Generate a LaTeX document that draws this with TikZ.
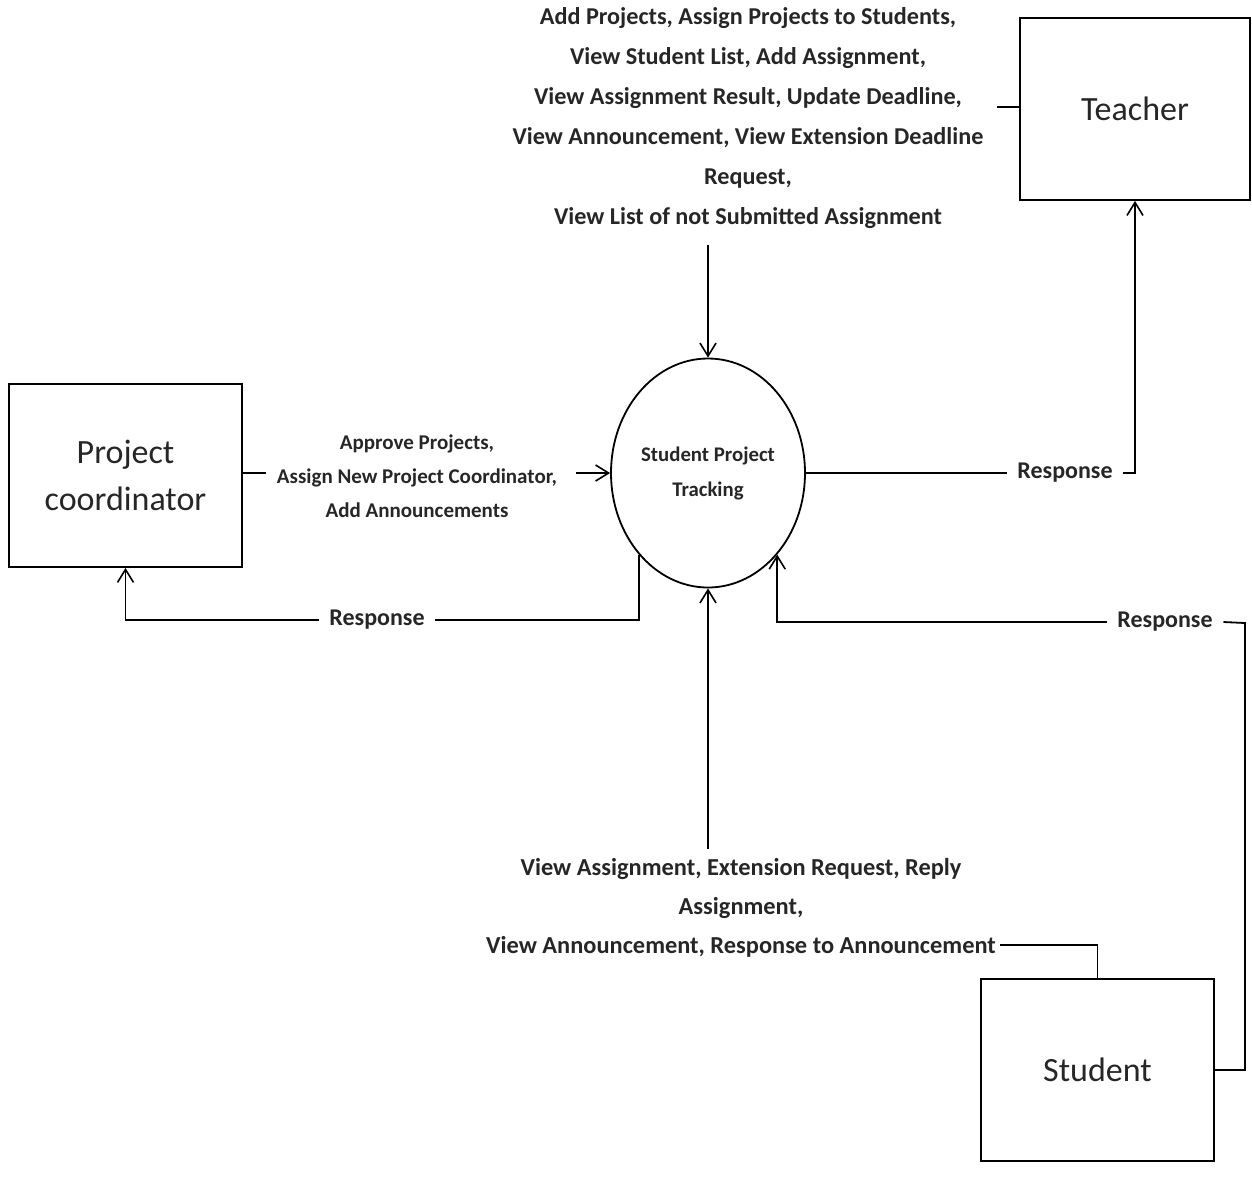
\documentclass[tikz,border=0pt]{standalone}
\usepackage{fontspec}
\setmainfont{Carlito}
\usetikzlibrary{arrows.meta,shapes.geometric}
\begin{document}
\begin{tikzpicture}[x=1pt,y=-1pt,
  line width=1.8pt,
  entity/.style={draw, rectangle, font=\fontsize{34}{47}\selectfont, align=center, text=black!85},
  proc/.style={draw, ellipse, minimum width=194pt, minimum height=229pt, inner sep=0pt, align=center, font=\bfseries\fontsize{20.8}{35}\selectfont, text=black!85},
  lbl/.style={align=center, inner sep=10pt, text=black!85},
  arr/.style={-{Straight Barb[length=13pt,width=16pt,line width=1.6pt]}}
]
\useasboundingbox (0,0) rectangle (1252,1187);

% entities
\node[entity, minimum width=230pt, minimum height=182pt] (teacher) at (1135,109) {Teacher};
\node[entity, minimum width=233pt, minimum height=183pt] (pc) at (125.5,475.5) {Project\\coordinator};
\node[entity, minimum width=233pt, minimum height=182pt] (student) at (1097.5,1070) {Student};

% process
\node[proc] (ell) at (708,473) {Student Project\\Tracking};

% labels
\node[lbl, font=\bfseries\fontsize{24.2}{40}\selectfont] (toplbl) at (748,118)
  {Add Projects, Assign Projects to Students,\\View Student List, Add Assignment,\\View Assignment Result, Update Deadline,\\View Announcement, View Extension Deadline\\Request,\\View List of not Submitted Assignment};
\node[lbl, font=\bfseries\fontsize{21}{34}\selectfont] (pclbl) at (417,476)
  {Approve Projects,\\Assign New Project Coordinator,\\Add Announcements};
\node[lbl, font=\bfseries\fontsize{24.4}{39}\selectfont] (botlbl) at (741,908)
  {View Assignment, Extension Request, Reply\\Assignment,\\View Announcement, Response to Announcement};
\node[lbl, font=\bfseries\fontsize{24}{28}\selectfont] (resp1) at (377,620) {Response};
\node[lbl, font=\bfseries\fontsize{24}{28}\selectfont] (resp2) at (1065,473) {Response};
\node[lbl, font=\bfseries\fontsize{24}{28}\selectfont] (resp3) at (1165,622) {Response};

\coordinate (tl) at (997,107);
\coordinate (sb) at (1000,945);
\coordinate (sc) at (1245,623);

% teacher -> process
\draw (teacher.west |- tl) -- (tl);
\draw[arr] (ell.north |- 0,245) -- (ell.north);
% pc -> process
\draw (pc.east |- ell.west) -- (pclbl.west |- ell.west);
\draw[arr] ([xshift=8pt]pclbl.east |- ell.west) -- (ell.west);
% process -> pc
\draw (ell.south west) |- (resp1.east);
\draw[arr] (resp1.west) -| (pc.south);
% process -> teacher
\draw (ell.east) -- (ell.east -| resp2.west);
\draw[arr] (resp2.east) -| (teacher.south);
% student -> process
\draw (student.north) |- (sb);
\draw[arr] (ell.south |- 0,849) -- (ell.south);
% student response
\draw (student.east) -| (sc) -- (resp3.east);
\draw[arr] (resp3.west) -| (ell.south east);
\end{tikzpicture}
\end{document}
